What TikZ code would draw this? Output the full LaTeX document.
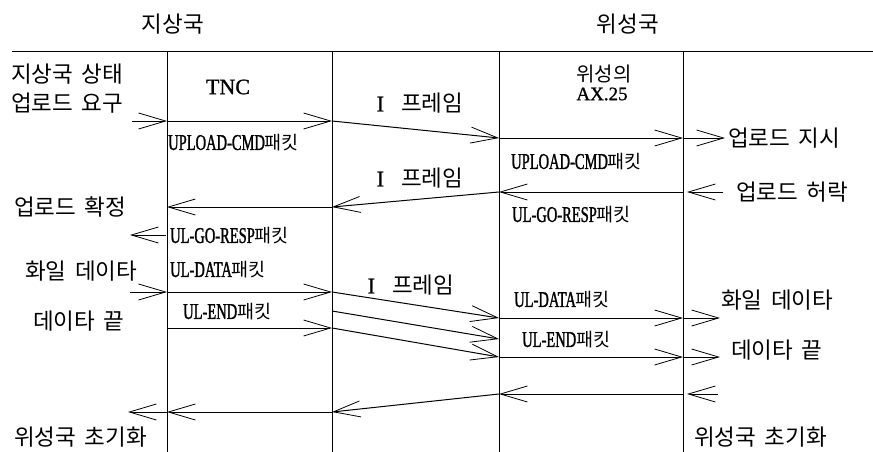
\documentclass[tikz,border=0pt]{standalone}
\usepackage{fontspec}
\setmainfont{Liberation Serif}[FakeBold=1]
\newfontfamily\kr{Noto Sans CJK KR}
\newfontfamily\cond[FakeStretch=0.645,FakeBold=1.2]{Liberation Serif}
\usetikzlibrary{arrows.meta}
\newcommand\ksp{\hspace{0.38em}}
\newcommand\pak[1]{{\cond #1}{\kr\fontsize{18.5}{18.5}\selectfont 패킷}}
\begin{document}
\begin{tikzpicture}[x=1pt,y=-1pt,
  lab/.style={inner sep=0pt,font=\kr\fontsize{22.5}{22.5}\selectfont},
  pkt/.style={inner sep=0pt,anchor=west,font=\fontsize{22.5}{22.5}\selectfont},
  msg/.style={line width=1pt,-{Straight Barb[length=27pt,width=16pt,line width=0.8pt]}},
  life/.style={line width=0.8pt}]
\useasboundingbox (0,0) rectangle (873,452);
% frame lines
\coordinate (h0) at (12,52); \coordinate (h1) at (873,52);
\coordinate (v1t) at (167,52); \coordinate (v1b) at (167,452);
\coordinate (v2t) at (332,52); \coordinate (v2b) at (332,452);
\coordinate (v3t) at (499,52); \coordinate (v3b) at (499,452);
\coordinate (v4t) at (683,52); \coordinate (v4b) at (683,452);
\draw[line width=1pt] (h0) -- (h1);
\draw[life] (v1t) -- (v1b);
\draw[life] (v2t) -- (v2b);
\draw[life] (v3t) -- (v3b);
\draw[life] (v4t) -- (v4b);
% titles
\node[lab] (tg) at (173,24) {지상국};
\node[lab] (ts) at (628,24) {위성국};
% left labels
\node[lab,anchor=west] (l1) at (11,74) {지상국\ksp 상태};
\node[lab,anchor=west] (l2) at (11,103) {업로드\ksp 요구};
\node[lab,anchor=west] (l3) at (14,207) {업로드\ksp 확정};
\node[lab,anchor=west] (l4) at (25,271) {화일\ksp 데이타};
\node[lab,anchor=west] (l5) at (33,321) {데이타\ksp 끝};
\node[lab,anchor=west] (l6) at (14,437) {위성국\ksp 초기화};
% right labels
\node[lab,anchor=west] (r1) at (728,138) {업로드\ksp 지시};
\node[lab,anchor=west] (r2) at (736,192) {업로드\ksp 허락};
\node[lab,anchor=west] (r3) at (721,300) {화일\ksp 데이타};
\node[lab,anchor=west] (r4) at (731,350) {데이타\ksp 끝};
\node[lab,anchor=west] (r5) at (694,437) {위성국\ksp 초기화};
% column headers
\node[inner sep=0pt,font=\fontsize{22}{22}\selectfont] (tnc) at (228,87) {TNC};
\node[lab,font=\kr\fontsize{20}{20}\selectfont] (ax1) at (604,74) {위성의};
\node[inner sep=0pt,font=\fontsize{19}{19}\selectfont] (ax2) at (602,94) {AX.25};
% I frame labels
\node[lab] (if1) at (420,103) {{\rmfamily I}\ksp\ksp 프레임};
\node[lab] (if2) at (420,178) {{\rmfamily I}\ksp\ksp 프레임};
\node[lab] (if3) at (411,285) {{\rmfamily I}\ksp\ksp 프레임};
% packet labels
\node[pkt] (k1) at (168,143) {\pak{UPLOAD-CMD}};
\node[pkt] (k2) at (511,162) {\pak{UPLOAD-CMD}};
\node[pkt] (k3) at (170,236) {\pak{UL-GO-RESP}};
\node[pkt] (k4) at (512,215) {\pak{UL-GO-RESP}};
\node[pkt] (k5) at (170,270) {\pak{UL-DATA}};
\node[pkt] (k6) at (514,300) {\pak{UL-DATA}};
\node[pkt] (k7) at (183,312) {\pak{UL-END}};
\node[pkt] (k8) at (522,340) {\pak{UL-END}};
% row 1
\coordinate (a0) at (132,121); \coordinate (a1) at (167,121);
\coordinate (a2) at (332,121); \coordinate (a3) at (499,138);
\coordinate (a4) at (683,138); \coordinate (a5) at (725,138);
\draw[msg] (a0) -- (a1);
\draw[msg] (a1) -- (a2);
\draw[msg] (a2) -- (a3);
\draw[msg] (a3) -- (a4);
\draw[msg] (a4) -- (a5);
% row 2
\coordinate (b5) at (723,192); \coordinate (b4t) at (687,192);
\coordinate (b4) at (683,192); \coordinate (b3) at (499,192);
\coordinate (b2) at (332,207); \coordinate (b1) at (167,207);
\coordinate (b1s) at (166,235); \coordinate (b0) at (130,235);
\draw[msg] (b5) -- (b4t);
\draw[msg] (b4) -- (b3);
\draw[msg] (b3) -- (b2);
\draw[msg] (b2) -- (b1);
\draw[msg] (b1s) -- (b0);
% row 3
\coordinate (c0) at (130,292); \coordinate (c1) at (167,292);
\coordinate (c2) at (332,292); \coordinate (c3) at (499,318);
\coordinate (c4) at (683,318); \coordinate (c5) at (720,318);
\draw[msg] (c0) -- (c1);
\draw[msg] (c1) -- (c2);
\draw[msg] (c2) -- (c3);
\draw[msg] (c3) -- (c4);
\draw[msg] (c4) -- (c5);
% row 4
\coordinate (d1) at (167,328); \coordinate (d2) at (332,328);
\coordinate (d2m) at (332,311); \coordinate (d3m) at (499,339);
\coordinate (d3) at (499,357); \coordinate (d4) at (683,357);
\coordinate (d5) at (720,357);
\draw[msg] (d1) -- (d2);
\draw[msg] (d2m) -- (d3m);
\draw[msg] (d2) -- (d3);
\draw[msg] (d3) -- (d4);
\draw[msg] (d4) -- (d5);
% row 5
\coordinate (e5) at (718,394); \coordinate (e5t) at (687,394);
\coordinate (e4) at (683,394); \coordinate (e3) at (499,394);
\coordinate (e2) at (332,412); \coordinate (e1) at (167,412);
\coordinate (e0) at (128,412);
\draw[msg] (e5) -- (e5t);
\draw[msg] (e4) -- (e3);
\draw[msg] (e3) -- (e2);
\draw[msg] (e2) -- (e1);
\draw[msg] (e1) -- (e0);
\end{tikzpicture}
\end{document}
